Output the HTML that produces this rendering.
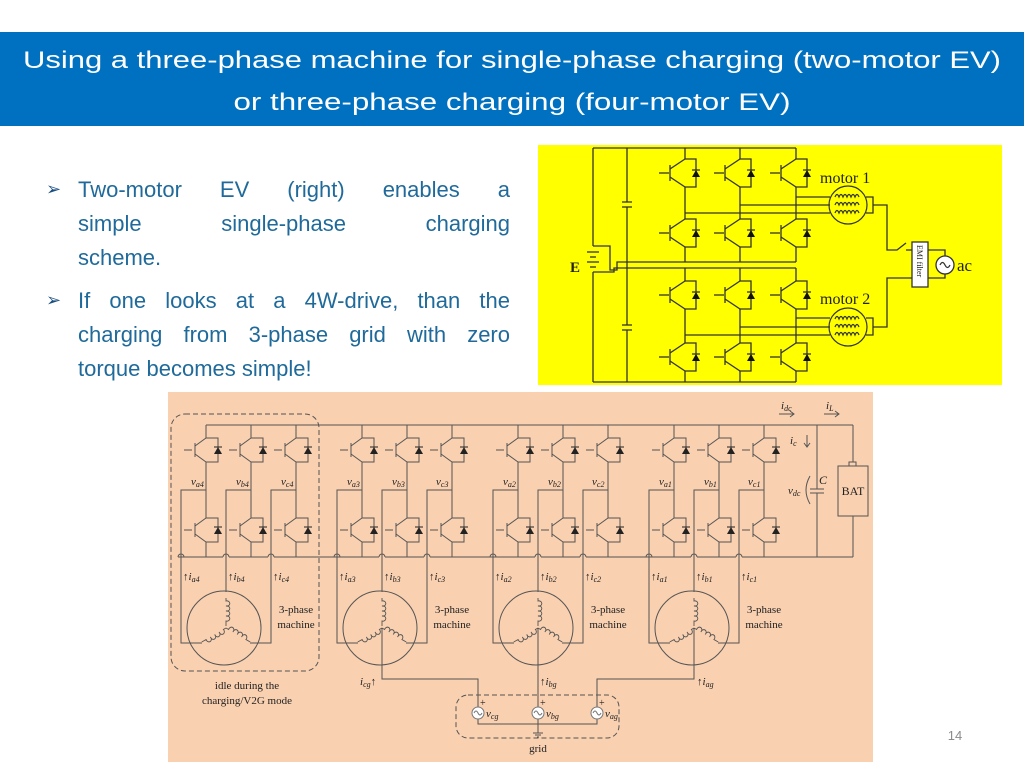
<!DOCTYPE html>
<html><head><meta charset="utf-8"><style>
html,body{margin:0;padding:0;background:#fff;width:1024px;height:768px;overflow:hidden;position:relative}
svg{display:block}
.ln{position:absolute;left:78px;width:432px;font-family:"Liberation Sans",sans-serif;font-size:22px;color:#1f6a9a;text-align:justify;text-align-last:justify;white-space:nowrap;line-height:26px}
.ln.l{text-align-last:left}
.bl{position:absolute;left:46px;font-family:"DejaVu Sans",sans-serif;font-size:18px;color:#1a4f80;line-height:26px}
</style></head><body>
<svg width="1024" height="768" viewBox="0 0 1024 768" xmlns="http://www.w3.org/2000/svg">
<defs>
<g id="sw" fill="none" stroke="#555" stroke-width="1">
  <line x1="-22" y1="0" x2="-14" y2="0"/>
  <line x1="-11" y1="-7" x2="-11" y2="7"/>
  <line x1="-11" y1="-4" x2="0" y2="-12"/>
  <line x1="-11" y1="4" x2="0" y2="12"/>
  <polyline points="0,-12 12,-12 12,12 0,12"/>
  <polygon points="8,4 16,4 12,-3" fill="#222" stroke="none"/>
  <line x1="8" y1="-3" x2="16" y2="-3" stroke="#222"/>
</g>
<g id="coil" fill="none" stroke="#555" stroke-width="0.9">
  <path d="M0,0 v3 a3,2.6 0 1 1 0,5 a3,2.6 0 1 1 0,5 a3,2.6 0 1 1 0,5 a3,2.6 0 1 1 0,5 v5"/>
</g>
<g id="mod" fill="none" stroke="#555" stroke-width="1">
  <line x1="0" y1="425" x2="0" y2="438"/><line x1="0" y1="462" x2="0" y2="518"/><line x1="0" y1="542" x2="0" y2="557"/>
  <line x1="45" y1="425" x2="45" y2="438"/><line x1="45" y1="462" x2="45" y2="518"/><line x1="45" y1="542" x2="45" y2="557"/>
  <line x1="90" y1="425" x2="90" y2="438"/><line x1="90" y1="462" x2="90" y2="518"/><line x1="90" y1="542" x2="90" y2="557"/>
  <use href="#sw" x="0" y="450"/><use href="#sw" x="45" y="450"/><use href="#sw" x="90" y="450"/>
  <use href="#sw" x="0" y="530"/><use href="#sw" x="45" y="530"/><use href="#sw" x="90" y="530"/>
  <polyline points="0,490 -25,490 -25,643 -14,643"/>
  <polyline points="45,490 20,490 20,592"/>
  <polyline points="90,490 65,490 65,643 50,643"/>
  <path d="M0,557 H-28 M-22,557 H17 M23,557 H62 M68,557 H90 M-28,557 a3,3 0 0 1 6,0 M17,557 a3,3 0 0 1 6,0 M62,557 a3,3 0 0 1 6,0"/>
  <circle cx="18" cy="628" r="37"/>
  <g transform="translate(20,598)"><use href="#coil"/></g>
  <g transform="translate(20,628) rotate(60)"><use href="#coil"/></g>
  <g transform="translate(20,628) rotate(-60)"><use href="#coil"/></g>
  <line x1="-14" y1="643" x2="-4" y2="643"/>
  <line x1="50" y1="643" x2="44" y2="643"/>
</g>
<g id="src">
  <circle r="6" fill="#fff" stroke="#777"/>
  <path d="M-4,0 q2,-4 4,0 t4,0" fill="none" stroke="#777"/>
</g>
<g id="ysw" fill="none" stroke="#333" stroke-width="1.3">
  <line x1="-26" y1="0" x2="-16" y2="0"/>
  <line x1="-15" y1="-8" x2="-15" y2="8"/>
  <line x1="-15" y1="-4" x2="0" y2="-14"/>
  <line x1="-15" y1="4" x2="0" y2="14"/>
  <polyline points="0,-14 11,-14 11,14 0,14"/>
  <polygon points="7,4 15,4 11,-3" fill="#111" stroke="none"/>
  <line x1="7" y1="-3" x2="15" y2="-3"/>
</g>
<g id="ymot" fill="none" stroke="#333" stroke-width="1.2">
  <circle r="19"/>
  <path d="M-13,-8 q2,-5 4,0 q2,-5 4,0 q2,-5 4,0 q2,-5 4,0 q2,-5 4,0 q2,-5 4,0"/>
  <path d="M-13,0 q2,-5 4,0 q2,-5 4,0 q2,-5 4,0 q2,-5 4,0 q2,-5 4,0 q2,-5 4,0"/>
  <path d="M-13,8 q2,-5 4,0 q2,-5 4,0 q2,-5 4,0 q2,-5 4,0 q2,-5 4,0 q2,-5 4,0"/>
</g>
</defs>

<rect x="0" y="32" width="1024" height="94" fill="#0070c0"/>
<g font-family="Liberation Sans, sans-serif" font-size="24" fill="#fff" text-anchor="middle">
<text x="512" y="68" textLength="978" lengthAdjust="spacingAndGlyphs">Using a three-phase machine for single-phase charging (two-motor EV)</text>
<text x="512" y="110" textLength="557" lengthAdjust="spacingAndGlyphs">or three-phase charging (four-motor EV)</text>
</g>

<rect x="538" y="145" width="464" height="240" fill="#ffff00"/>
<g fill="none" stroke="#333" stroke-width="1.3">
  <line x1="593" y1="148" x2="796" y2="148"/>
  <line x1="593" y1="382" x2="796" y2="382"/>
  <line x1="593" y1="148" x2="593" y2="246"/>
  <line x1="593" y1="272" x2="593" y2="382"/>
  <line x1="627" y1="148" x2="627" y2="202"/><line x1="622" y1="202" x2="632" y2="202"/><line x1="622" y1="207" x2="632" y2="207"/><line x1="627" y1="207" x2="627" y2="325"/>
  <line x1="622" y1="325" x2="632" y2="325"/><line x1="622" y1="330" x2="632" y2="330"/><line x1="627" y1="330" x2="627" y2="382"/>
  <line x1="587" y1="252" x2="599" y2="252"/><line x1="590" y1="257" x2="596" y2="257"/><line x1="587" y1="262" x2="599" y2="262"/><line x1="590" y1="267" x2="596" y2="267"/>
  <polyline points="593,246 610,246 610,270 617,270 617,262 620,262 796,262"/>
  <polyline points="593,272 614,272 614,268 620,268 796,268"/>
  <line x1="685" y1="148" x2="685" y2="159"/><line x1="740" y1="148" x2="740" y2="159"/><line x1="796" y1="148" x2="796" y2="159"/>
  <line x1="685" y1="187" x2="685" y2="219"/><line x1="740" y1="187" x2="740" y2="219"/><line x1="796" y1="187" x2="796" y2="219"/>
  <line x1="685" y1="247" x2="685" y2="262"/><line x1="740" y1="247" x2="740" y2="262"/><line x1="796" y1="247" x2="796" y2="262"/>
  <line x1="685" y1="268" x2="685" y2="281"/><line x1="740" y1="268" x2="740" y2="281"/><line x1="796" y1="268" x2="796" y2="281"/>
  <line x1="685" y1="309" x2="685" y2="343"/><line x1="740" y1="309" x2="740" y2="343"/><line x1="796" y1="309" x2="796" y2="343"/>
  <line x1="685" y1="371" x2="685" y2="382"/><line x1="740" y1="371" x2="740" y2="382"/><line x1="796" y1="371" x2="796" y2="382"/>
  <line x1="796" y1="197" x2="830" y2="197"/><line x1="740" y1="205" x2="830" y2="205"/><line x1="685" y1="213" x2="830" y2="213"/>
  <line x1="796" y1="318" x2="830" y2="318"/><line x1="740" y1="327" x2="830" y2="327"/><line x1="685" y1="335" x2="830" y2="335"/>
  <polyline points="866,197 873,197 873,213 866,213"/>
  <polyline points="873,205 887,205 887,250 897,250 906,243"/>
  <line x1="906" y1="250" x2="912" y2="250"/>
  <polyline points="866,318 873,318 873,335 866,335"/>
  <polyline points="873,327 887,327 887,278 912,278"/>
  <rect x="912" y="242" width="16" height="45" fill="#fff"/>
  <polyline points="928,250 945,250 945,256"/>
  <polyline points="928,278 945,278 945,274"/>
  <circle cx="945" cy="265" r="9" fill="#fff"/>
  <path d="M940,265 q2.5,-5 5,0 t5,0"/>
</g>
<use href="#ysw" x="685" y="173"/><use href="#ysw" x="740" y="173"/><use href="#ysw" x="796" y="173"/>
<use href="#ysw" x="685" y="233"/><use href="#ysw" x="740" y="233"/><use href="#ysw" x="796" y="233"/>
<use href="#ysw" x="685" y="295"/><use href="#ysw" x="740" y="295"/><use href="#ysw" x="796" y="295"/>
<use href="#ysw" x="685" y="357"/><use href="#ysw" x="740" y="357"/><use href="#ysw" x="796" y="357"/>
<use href="#ymot" x="848" y="205"/><use href="#ymot" x="848" y="327"/>
<g font-family="Liberation Serif, serif" fill="#222">
<text x="820" y="183" font-size="16">motor 1</text>
<text x="820" y="304" font-size="16">motor 2</text>
<text x="570" y="272" font-size="15" font-weight="bold">E</text>
<text x="957" y="271" font-size="17">ac</text>
<text transform="translate(917,245) rotate(90)" font-size="8">EMI filter</text>
</g>

<rect x="168" y="392" width="705" height="370" fill="#f9d0b0"/>
<g fill="none" stroke="#555" stroke-width="1">
  <line x1="206" y1="425" x2="853" y2="425"/>
  <line x1="296" y1="557" x2="337" y2="557"/><line x1="452" y1="557" x2="493" y2="557"/><line x1="608" y1="557" x2="649" y2="557"/>
  <line x1="764" y1="557" x2="853" y2="557"/>
  <line x1="817" y1="425" x2="817" y2="489"/><line x1="810" y1="489" x2="824" y2="489"/><line x1="810" y1="493" x2="824" y2="493"/><line x1="817" y1="493" x2="817" y2="557"/>
  <line x1="853" y1="425" x2="853" y2="462"/><line x1="853" y1="516" x2="853" y2="557"/>
  <rect x="849" y="462" width="7" height="4"/>
  <rect x="838" y="466" width="30" height="50"/>
  <path d="M810,476 q-8,14 0,28"/>
  <path d="M779,414 h15 M790,411 l4,3 -4,3"/>
  <path d="M824,414 h15 M835,411 l4,3 -4,3"/>
  <path d="M807,435 v12 M804,443 l3,4 3,-4"/>
  <rect x="171" y="414" width="148" height="257" rx="14" stroke-dasharray="5,3"/>
  <rect x="456" y="695" width="163" height="43" rx="12" stroke-dasharray="5,3"/>
  <polyline points="382,628 382,679 478,679 478,707"/>
  <line x1="538" y1="628" x2="538" y2="707"/>
  <polyline points="694,628 694,679 597,679 597,707"/>
  <polyline points="478,719 478,724 597,724 597,719"/>
  <line x1="538" y1="719" x2="538" y2="733"/>
  <line x1="533" y1="733" x2="543" y2="733"/><line x1="535" y1="735" x2="541" y2="735"/><line x1="537" y1="737" x2="539" y2="737"/>
</g>
<use href="#mod" x="206"/><use href="#mod" x="362"/><use href="#mod" x="518"/><use href="#mod" x="674"/>
<use href="#src" x="478" y="713"/><use href="#src" x="538" y="713"/><use href="#src" x="597" y="713"/>

<g font-family="Liberation Serif, serif" font-size="11" fill="#222">
<g font-style="italic">
<text x="191" y="485">v<tspan font-size="8" dy="2">a4</tspan></text>
<text x="236" y="485">v<tspan font-size="8" dy="2">b4</tspan></text>
<text x="281" y="485">v<tspan font-size="8" dy="2">c4</tspan></text>
<text x="347" y="485">v<tspan font-size="8" dy="2">a3</tspan></text>
<text x="392" y="485">v<tspan font-size="8" dy="2">b3</tspan></text>
<text x="436" y="485">v<tspan font-size="8" dy="2">c3</tspan></text>
<text x="503" y="485">v<tspan font-size="8" dy="2">a2</tspan></text>
<text x="548" y="485">v<tspan font-size="8" dy="2">b2</tspan></text>
<text x="592" y="485">v<tspan font-size="8" dy="2">c2</tspan></text>
<text x="659" y="485">v<tspan font-size="8" dy="2">a1</tspan></text>
<text x="704" y="485">v<tspan font-size="8" dy="2">b1</tspan></text>
<text x="748" y="485">v<tspan font-size="8" dy="2">c1</tspan></text>
<text x="183" y="580"><tspan font-style="normal">↑</tspan>i<tspan font-size="8" dy="2">a4</tspan></text>
<text x="228" y="580"><tspan font-style="normal">↑</tspan>i<tspan font-size="8" dy="2">b4</tspan></text>
<text x="273" y="580"><tspan font-style="normal">↑</tspan>i<tspan font-size="8" dy="2">c4</tspan></text>
<text x="339" y="580"><tspan font-style="normal">↑</tspan>i<tspan font-size="8" dy="2">a3</tspan></text>
<text x="384" y="580"><tspan font-style="normal">↑</tspan>i<tspan font-size="8" dy="2">b3</tspan></text>
<text x="429" y="580"><tspan font-style="normal">↑</tspan>i<tspan font-size="8" dy="2">c3</tspan></text>
<text x="495" y="580"><tspan font-style="normal">↑</tspan>i<tspan font-size="8" dy="2">a2</tspan></text>
<text x="540" y="580"><tspan font-style="normal">↑</tspan>i<tspan font-size="8" dy="2">b2</tspan></text>
<text x="585" y="580"><tspan font-style="normal">↑</tspan>i<tspan font-size="8" dy="2">c2</tspan></text>
<text x="651" y="580"><tspan font-style="normal">↑</tspan>i<tspan font-size="8" dy="2">a1</tspan></text>
<text x="696" y="580"><tspan font-style="normal">↑</tspan>i<tspan font-size="8" dy="2">b1</tspan></text>
<text x="741" y="580"><tspan font-style="normal">↑</tspan>i<tspan font-size="8" dy="2">c1</tspan></text>
<text x="360" y="685">i<tspan font-size="8" dy="2">cg</tspan><tspan font-style="normal" dy="-2">↑</tspan></text>
<text x="540" y="685"><tspan font-style="normal">↑</tspan>i<tspan font-size="8" dy="2">bg</tspan></text>
<text x="697" y="685"><tspan font-style="normal">↑</tspan>i<tspan font-size="8" dy="2">ag</tspan></text>
<text x="486" y="717">v<tspan font-size="8" dy="2">cg</tspan></text>
<text x="546" y="717">v<tspan font-size="8" dy="2">bg</tspan></text>
<text x="605" y="717">v<tspan font-size="8" dy="2">ag</tspan></text>
<text x="781" y="409">i<tspan font-size="8" dy="2">dc</tspan></text>
<text x="826" y="409">i<tspan font-size="8" dy="2">L</tspan></text>
<text x="790" y="444">i<tspan font-size="8" dy="2">c</tspan></text>
<text x="788" y="494">v<tspan font-size="8" dy="2">dc</tspan></text>
<text x="819" y="484" font-size="12">C</text>
</g>
<text x="480" y="706" font-size="10">+</text><text x="540" y="706" font-size="10">+</text><text x="599" y="706" font-size="10">+</text>
<text x="853" y="495" text-anchor="middle" font-size="12">BAT</text>
<g text-anchor="middle">
<text x="296" y="613">3-phase</text><text x="296" y="628">machine</text>
<text x="452" y="613">3-phase</text><text x="452" y="628">machine</text>
<text x="608" y="613">3-phase</text><text x="608" y="628">machine</text>
<text x="764" y="613">3-phase</text><text x="764" y="628">machine</text>
<text x="247" y="689">idle during the</text>
<text x="247" y="704">charging/V2G mode</text>
<text x="538" y="752">grid</text>
</g>
</g>

<text x="955" y="740" font-family="Liberation Sans, sans-serif" font-size="13" fill="#8c8c8c" text-anchor="middle">14</text>
</svg>

<div class="bl" style="top:177px">➢</div>
<div class="ln" style="top:177px">Two-motor EV (right) enables a</div>
<div class="ln" style="top:211px">simple single-phase charging</div>
<div class="ln l" style="top:245px">scheme.</div>
<div class="bl" style="top:288px">➢</div>
<div class="ln" style="top:288px">If one looks at a 4W-drive, than the</div>
<div class="ln" style="top:322px">charging from 3-phase grid with zero</div>
<div class="ln l" style="top:356px">torque becomes simple!</div>
</body></html>
